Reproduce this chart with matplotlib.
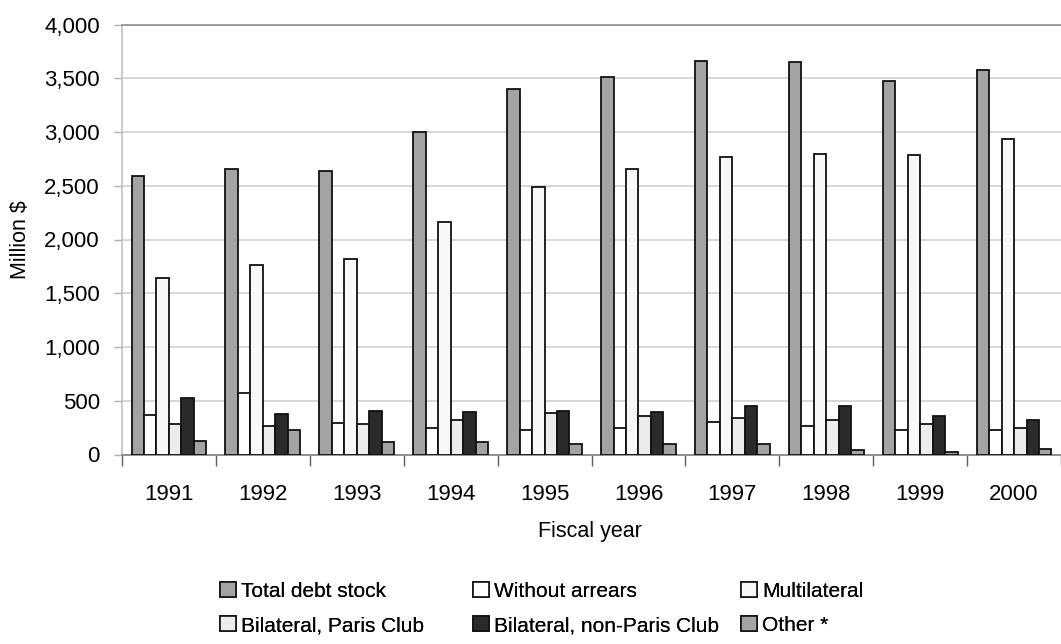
import matplotlib
matplotlib.use("Agg")
import matplotlib.pyplot as plt
import numpy as np
from matplotlib.patches import Patch
from matplotlib.ticker import FuncFormatter

years = ["1991", "1992", "1993", "1994", "1995", "1996", "1997", "1998", "1999", "2000"]
series_names = ["Total debt stock", "Without arrears", "Multilateral",
                "Bilateral, Paris Club", "Bilateral, non-Paris Club", "Other *"]
total_debt = [2594, 2653, 2637, 2997, 3397, 3514, 3663, 3648, 3471, 3577]
without_arrears = [367, 572, 293, 247, 231, 247, 305, 268, 231, 231]
multilateral = [1642, 1766, 1821, 2166, 2491, 2653, 2770, 2798, 2786, 2935]
paris_club = [281, 262, 281, 324, 383, 355, 337, 321, 281, 249]
non_paris_club = [528, 380, 407, 395, 407, 395, 454, 454, 355, 321]
other = [128, 231, 113, 113, 100, 100, 98, 39, 23, 51]
colors = ["#a3a3a3", "#ffffff", "#f8f8f8", "#ececec", "#2a2a2a", "#a3a3a3"]

plt.rcParams['font.family'] = ['Liberation Sans', 'DejaVu Sans']

fig = plt.figure(figsize=(10.61, 6.44), dpi=100)
ax = fig.add_axes([122/1061, 1-454.5/644, 1-122/1061, 430/644])

data = [total_debt, without_arrears, multilateral, paris_club, non_paris_club, other]
x = np.arange(len(years))
bw = 0.1326
n = len(data)
for i, (vals, c) in enumerate(zip(data, colors)):
    ax.bar(x + (i - (n-1)/2) * bw, vals, width=bw, color=c, edgecolor="#111111",
           linewidth=1.3, zorder=3)

ax.set_ylim(0, 4000)
ax.set_xlim(-0.5, -0.5 + (1061-122)/94.7)
ax.set_yticks(np.arange(0, 4001, 500))
ax.yaxis.set_major_formatter(FuncFormatter(lambda v, p: f"{int(v):,}"))
ax.yaxis.grid(True, color="#cccccc", linewidth=1.1, zorder=0)
ax.set_axisbelow(True)

ax.set_xticks(np.arange(-0.5, len(years), 1.0))
ax.set_xticklabels([])
ax.set_xticks(x, minor=True)
ax.set_xticklabels(years, minor=True)
ax.tick_params(axis='x', which='major', direction='out', length=8, color="#606060", width=1)
ax.tick_params(axis='x', which='minor', length=0, pad=21, labelsize=16)
ax.tick_params(axis='y', direction='out', length=6, color="#b0b0b0", width=1,
               labelsize=16, pad=10)

ax.spines['right'].set_visible(False)
ax.spines['top'].set_color("#909090")
ax.spines['top'].set_linewidth(1.2)
ax.spines['left'].set_color("#c0c0c0")
ax.spines['left'].set_linewidth(1.2)
ax.spines['bottom'].set_color("#808080")
ax.spines['bottom'].set_linewidth(1.2)

fig.text(20/1061, 1-240/644, "Million $", rotation=90, ha='center', va='center', fontsize=15.5)
fig.text(590/1061, 1-531/644, "Fiscal year", ha='center', va='center', fontsize=15.5)

handles = [Patch(facecolor=c, edgecolor="#111111", linewidth=1.2) for c in colors]
col_x = [220, 473, 741]
for j in range(3):
    idx = [j, j + 3]
    leg = fig.legend([handles[k] for k in idx], [series_names[k] for k in idx],
                     loc='upper left', bbox_to_anchor=(col_x[j]/1061, 1-582/644),
                     frameon=False, fontsize=15, handlelength=0.75, handleheight=0.75,
                     handletextpad=0.25, labelspacing=0.72, borderaxespad=0, borderpad=0)
    fig.add_artist(leg)

fig.savefig("out.png", dpi=100)
